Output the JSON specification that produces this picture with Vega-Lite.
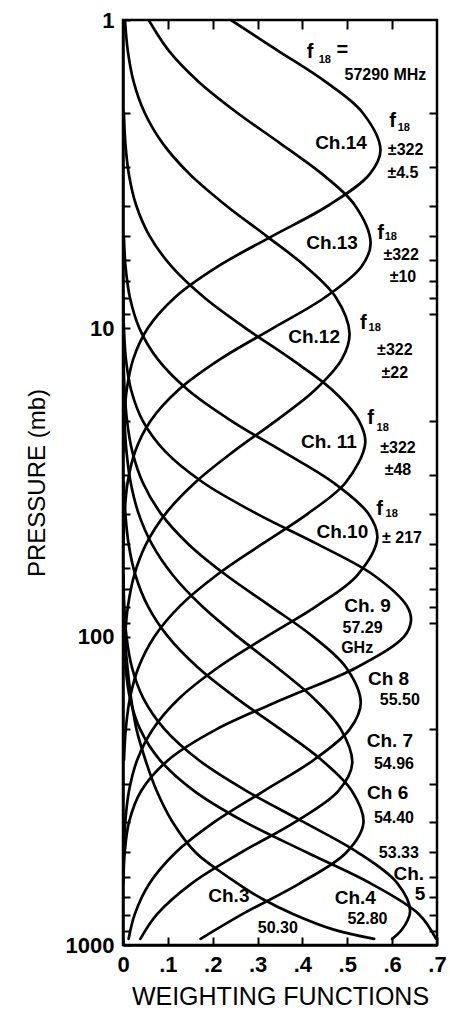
{
  "$schema": "https://vega.github.io/schema/vega-lite/v6.json",
  "width": 314,
  "height": 925,
  "autosize": "none",
  "padding": {"left": 123, "top": 20, "right": 13, "bottom": 74},
  "background": "white",
  "view": {"stroke": "black", "strokeWidth": 2.5},
  "config": {"font": "Liberation Sans"},
  "datasets": {
    "curves": [
      {"ch": "14", "p": 1, "w": 0.2406}, {"ch": "14", "p": 1.259, "w": 0.346}, {"ch": "14", "p": 1.585, "w": 0.4512}, {"ch": "14", "p": 1.995, "w": 0.5338}, {"ch": "14", "p": 2.642, "w": 0.574}, {"ch": "14", "p": 3.162, "w": 0.55}, {"ch": "14", "p": 3.981, "w": 0.4596}, {"ch": "14", "p": 5.012, "w": 0.3338}, {"ch": "14", "p": 6.31, "w": 0.2107}, {"ch": "14", "p": 7.943, "w": 0.1156}, {"ch": "14", "p": 10, "w": 0.0551}, {"ch": "14", "p": 12.59, "w": 0.0228}, {"ch": "14", "p": 15.85, "w": 0.0082}, {"ch": "14", "p": 19.95, "w": 0.0026}, {"ch": "14", "p": 25.12, "w": 0.0007},
      {"ch": "13", "p": 1, "w": 0.0572}, {"ch": "13", "p": 1.259, "w": 0.1024}, {"ch": "13", "p": 1.585, "w": 0.1684}, {"ch": "13", "p": 1.995, "w": 0.2537}, {"ch": "13", "p": 2.512, "w": 0.3506}, {"ch": "13", "p": 3.162, "w": 0.4443}, {"ch": "13", "p": 3.981, "w": 0.5165}, {"ch": "13", "p": 5.297, "w": 0.552}, {"ch": "13", "p": 6.31, "w": 0.5313}, {"ch": "13", "p": 7.943, "w": 0.4498}, {"ch": "13", "p": 10, "w": 0.3336}, {"ch": "13", "p": 12.59, "w": 0.2168}, {"ch": "13", "p": 15.85, "w": 0.1234}, {"ch": "13", "p": 19.95, "w": 0.0616}, {"ch": "13", "p": 25.12, "w": 0.0269}, {"ch": "13", "p": 31.62, "w": 0.0103}, {"ch": "13", "p": 39.81, "w": 0.0035}, {"ch": "13", "p": 50.12, "w": 0.001},
      {"ch": "12", "p": 1, "w": 0.0044}, {"ch": "12", "p": 1.259, "w": 0.0107}, {"ch": "12", "p": 1.585, "w": 0.0237}, {"ch": "12", "p": 1.995, "w": 0.048}, {"ch": "12", "p": 2.512, "w": 0.0885}, {"ch": "12", "p": 3.162, "w": 0.1487}, {"ch": "12", "p": 3.981, "w": 0.2282}, {"ch": "12", "p": 5.012, "w": 0.3193}, {"ch": "12", "p": 6.31, "w": 0.4076}, {"ch": "12", "p": 7.943, "w": 0.4747}, {"ch": "12", "p": 10.38, "w": 0.505}, {"ch": "12", "p": 12.59, "w": 0.4879}, {"ch": "12", "p": 15.85, "w": 0.428}, {"ch": "12", "p": 19.95, "w": 0.3406}, {"ch": "12", "p": 25.12, "w": 0.2458}, {"ch": "12", "p": 31.62, "w": 0.1609}, {"ch": "12", "p": 39.81, "w": 0.0955}, {"ch": "12", "p": 50.12, "w": 0.0514}, {"ch": "12", "p": 63.1, "w": 0.0251}, {"ch": "12", "p": 79.43, "w": 0.0111}, {"ch": "12", "p": 100, "w": 0.0045}, {"ch": "12", "p": 125.9, "w": 0.0016},
      {"ch": "11", "p": 1.995, "w": 0.002}, {"ch": "11", "p": 2.512, "w": 0.0053}, {"ch": "11", "p": 3.162, "w": 0.0131}, {"ch": "11", "p": 3.981, "w": 0.0292}, {"ch": "11", "p": 5.012, "w": 0.0591}, {"ch": "11", "p": 6.31, "w": 0.1087}, {"ch": "11", "p": 7.943, "w": 0.1811}, {"ch": "11", "p": 10, "w": 0.2737}, {"ch": "11", "p": 12.59, "w": 0.3752}, {"ch": "11", "p": 15.85, "w": 0.4666}, {"ch": "11", "p": 19.95, "w": 0.5261}, {"ch": "11", "p": 23.6, "w": 0.54}, {"ch": "11", "p": 31.62, "w": 0.4965}, {"ch": "11", "p": 39.81, "w": 0.413}, {"ch": "11", "p": 50.12, "w": 0.3096}, {"ch": "11", "p": 63.1, "w": 0.2091}, {"ch": "11", "p": 79.43, "w": 0.1273}, {"ch": "11", "p": 100, "w": 0.0698}, {"ch": "11", "p": 125.9, "w": 0.0345}, {"ch": "11", "p": 158.5, "w": 0.0154}, {"ch": "11", "p": 199.5, "w": 0.0062}, {"ch": "11", "p": 251.2, "w": 0.0022},
      {"ch": "10", "p": 5.012, "w": 0.0019}, {"ch": "10", "p": 6.31, "w": 0.0057}, {"ch": "10", "p": 7.943, "w": 0.0154}, {"ch": "10", "p": 10, "w": 0.0366}, {"ch": "10", "p": 12.59, "w": 0.0773}, {"ch": "10", "p": 15.85, "w": 0.1449}, {"ch": "10", "p": 19.95, "w": 0.2414}, {"ch": "10", "p": 25.12, "w": 0.3569}, {"ch": "10", "p": 31.62, "w": 0.4687}, {"ch": "10", "p": 39.81, "w": 0.5464}, {"ch": "10", "p": 47.75, "w": 0.567}, {"ch": "10", "p": 63.1, "w": 0.5227}, {"ch": "10", "p": 79.43, "w": 0.4322}, {"ch": "10", "p": 100, "w": 0.3198}, {"ch": "10", "p": 125.9, "w": 0.2118}, {"ch": "10", "p": 158.5, "w": 0.1255}, {"ch": "10", "p": 199.5, "w": 0.0666}, {"ch": "10", "p": 251.2, "w": 0.0316}, {"ch": "10", "p": 316.2, "w": 0.0134}, {"ch": "10", "p": 398.1, "w": 0.0051}, {"ch": "10", "p": 501.2, "w": 0.0017},
      {"ch": "9", "p": 7.943, "w": 0.0006}, {"ch": "9", "p": 10, "w": 0.0021}, {"ch": "9", "p": 12.59, "w": 0.0065}, {"ch": "9", "p": 15.85, "w": 0.0181}, {"ch": "9", "p": 19.95, "w": 0.0441}, {"ch": "9", "p": 25.12, "w": 0.0946}, {"ch": "9", "p": 31.62, "w": 0.1785}, {"ch": "9", "p": 39.81, "w": 0.2966}, {"ch": "9", "p": 50.12, "w": 0.4337}, {"ch": "9", "p": 63.1, "w": 0.5583}, {"ch": "9", "p": 79.43, "w": 0.6326}, {"ch": "9", "p": 88.72, "w": 0.642}, {"ch": "9", "p": 100, "w": 0.6265}, {"ch": "9", "p": 125.9, "w": 0.5208}, {"ch": "9", "p": 158.5, "w": 0.3613}, {"ch": "9", "p": 199.5, "w": 0.2091}, {"ch": "9", "p": 251.2, "w": 0.101}, {"ch": "9", "p": 316.2, "w": 0.0407}, {"ch": "9", "p": 398.1, "w": 0.0137}, {"ch": "9", "p": 501.2, "w": 0.0038}, {"ch": "9", "p": 631, "w": 0.0009},
      {"ch": "8", "p": 12.59, "w": 0.0012}, {"ch": "8", "p": 15.85, "w": 0.0035}, {"ch": "8", "p": 19.95, "w": 0.009}, {"ch": "8", "p": 25.12, "w": 0.0208}, {"ch": "8", "p": 31.62, "w": 0.044}, {"ch": "8", "p": 39.81, "w": 0.0841}, {"ch": "8", "p": 50.12, "w": 0.1459}, {"ch": "8", "p": 63.1, "w": 0.2295}, {"ch": "8", "p": 79.43, "w": 0.3275}, {"ch": "8", "p": 100, "w": 0.4238}, {"ch": "8", "p": 125.9, "w": 0.4974}, {"ch": "8", "p": 163.7, "w": 0.53}, {"ch": "8", "p": 199.5, "w": 0.5056}, {"ch": "8", "p": 251.2, "w": 0.4251}, {"ch": "8", "p": 316.2, "w": 0.3146}, {"ch": "8", "p": 398.1, "w": 0.2049}, {"ch": "8", "p": 501.2, "w": 0.1175}, {"ch": "8", "p": 631, "w": 0.0593}, {"ch": "8", "p": 794.3, "w": 0.0263}, {"ch": "8", "p": 955, "w": 0.0126},
      {"ch": "7", "p": 15.85, "w": 0.0013}, {"ch": "7", "p": 19.95, "w": 0.0033}, {"ch": "7", "p": 25.12, "w": 0.0078}, {"ch": "7", "p": 31.62, "w": 0.0171}, {"ch": "7", "p": 39.81, "w": 0.0346}, {"ch": "7", "p": 50.12, "w": 0.0645}, {"ch": "7", "p": 63.1, "w": 0.1108}, {"ch": "7", "p": 79.43, "w": 0.1753}, {"ch": "7", "p": 100, "w": 0.2556}, {"ch": "7", "p": 125.9, "w": 0.3434}, {"ch": "7", "p": 158.5, "w": 0.4253}, {"ch": "7", "p": 199.5, "w": 0.4855}, {"ch": "7", "p": 258.2, "w": 0.511}, {"ch": "7", "p": 316.2, "w": 0.4803}, {"ch": "7", "p": 398.1, "w": 0.3851}, {"ch": "7", "p": 501.2, "w": 0.2632}, {"ch": "7", "p": 631, "w": 0.1533}, {"ch": "7", "p": 794.3, "w": 0.076}, {"ch": "7", "p": 955, "w": 0.0387},
      {"ch": "6", "p": 31.62, "w": 0.002}, {"ch": "6", "p": 39.81, "w": 0.0052}, {"ch": "6", "p": 50.12, "w": 0.0126}, {"ch": "6", "p": 63.1, "w": 0.0276}, {"ch": "6", "p": 79.43, "w": 0.0551}, {"ch": "6", "p": 100, "w": 0.1004}, {"ch": "6", "p": 125.9, "w": 0.167}, {"ch": "6", "p": 158.5, "w": 0.2534}, {"ch": "6", "p": 199.5, "w": 0.3507}, {"ch": "6", "p": 251.2, "w": 0.4427}, {"ch": "6", "p": 316.2, "w": 0.51}, {"ch": "6", "p": 401.8, "w": 0.536}, {"ch": "6", "p": 501.2, "w": 0.4979}, {"ch": "6", "p": 631, "w": 0.3942}, {"ch": "6", "p": 794.3, "w": 0.266}, {"ch": "6", "p": 955, "w": 0.173},
      {"ch": "5", "p": 63.1, "w": 0.0009}, {"ch": "5", "p": 79.43, "w": 0.0028}, {"ch": "5", "p": 100, "w": 0.0078}, {"ch": "5", "p": 125.9, "w": 0.02}, {"ch": "5", "p": 158.5, "w": 0.0454}, {"ch": "5", "p": 199.5, "w": 0.0925}, {"ch": "5", "p": 251.2, "w": 0.1686}, {"ch": "5", "p": 316.2, "w": 0.2749}, {"ch": "5", "p": 398.1, "w": 0.4011}, {"ch": "5", "p": 501.2, "w": 0.5237}, {"ch": "5", "p": 631, "w": 0.6118}, {"ch": "5", "p": 776.2, "w": 0.64}, {"ch": "5", "p": 891.3, "w": 0.6218}, {"ch": "5", "p": 955, "w": 0.6},
      {"ch": "4", "p": 63.1, "w": 0.0001}, {"ch": "4", "p": 79.43, "w": 0.0005}, {"ch": "4", "p": 100, "w": 0.0018}, {"ch": "4", "p": 125.9, "w": 0.0057}, {"ch": "4", "p": 158.5, "w": 0.0156}, {"ch": "4", "p": 199.5, "w": 0.038}, {"ch": "4", "p": 251.2, "w": 0.0823}, {"ch": "4", "p": 316.2, "w": 0.1583}, {"ch": "4", "p": 398.1, "w": 0.2704}, {"ch": "4", "p": 501.2, "w": 0.41}, {"ch": "4", "p": 631, "w": 0.5519}, {"ch": "4", "p": 794.3, "w": 0.6596}, {"ch": "4", "p": 955, "w": 0.698},
      {"ch": "3", "p": 79.43, "w": 0.001}, {"ch": "3", "p": 100, "w": 0.004}, {"ch": "3", "p": 125.9, "w": 0.01}, {"ch": "3", "p": 158.5, "w": 0.018}, {"ch": "3", "p": 199.5, "w": 0.03}, {"ch": "3", "p": 251.2, "w": 0.05}, {"ch": "3", "p": 316.2, "w": 0.075}, {"ch": "3", "p": 398.1, "w": 0.11}, {"ch": "3", "p": 501.2, "w": 0.162}, {"ch": "3", "p": 575.4, "w": 0.215}, {"ch": "3", "p": 631, "w": 0.255}, {"ch": "3", "p": 707.9, "w": 0.31}, {"ch": "3", "p": 794.3, "w": 0.38}, {"ch": "3", "p": 891.3, "w": 0.47}, {"ch": "3", "p": 955, "w": 0.56}
    ],
    "notes": [
      {"role": "ch", "t": "Ch.14", "w": 0.486, "p": 2.5},
      {"role": "ch", "t": "Ch.13", "w": 0.466, "p": 5.3},
      {"role": "ch", "t": "Ch.12", "w": 0.426, "p": 10.7},
      {"role": "ch", "t": "Ch. 11", "w": 0.459, "p": 23.4},
      {"role": "ch", "t": "Ch.10", "w": 0.489, "p": 45.9},
      {"role": "ch", "t": "Ch. 9", "w": 0.545, "p": 79.3},
      {"role": "ch", "t": "Ch 8", "w": 0.592, "p": 137},
      {"role": "ch", "t": "Ch. 7", "w": 0.595, "p": 218},
      {"role": "ch", "t": "Ch 6", "w": 0.59, "p": 321},
      {"role": "ch", "t": "Ch.", "w": 0.637, "p": 588},
      {"role": "ch", "t": "5", "w": 0.662, "p": 683},
      {"role": "ch", "t": "Ch.4", "w": 0.518, "p": 704},
      {"role": "ch", "t": "Ch.3", "w": 0.236, "p": 693},
      {"role": "f", "t": "f", "w": 0.417, "p": 1.27},
      {"role": "f", "t": "=", "w": 0.489, "p": 1.25},
      {"role": "f", "t": "f", "w": 0.601, "p": 2.13},
      {"role": "f", "t": "f", "w": 0.574, "p": 4.92},
      {"role": "f", "t": "f", "w": 0.536, "p": 9.64},
      {"role": "f", "t": "f", "w": 0.552, "p": 19.5},
      {"role": "f", "t": "f", "w": 0.572, "p": 38.4},
      {"role": "sub", "t": "18", "w": 0.45, "p": 1.35},
      {"role": "sub", "t": "18", "w": 0.626, "p": 2.24},
      {"role": "sub", "t": "18", "w": 0.597, "p": 5.07},
      {"role": "sub", "t": "18", "w": 0.561, "p": 10.0},
      {"role": "sub", "t": "18", "w": 0.579, "p": 21.0},
      {"role": "sub", "t": "18", "w": 0.599, "p": 39.9},
      {"role": "freq", "t": "57290 MHz", "w": 0.585, "p": 1.51},
      {"role": "freq", "t": "±322", "w": 0.63, "p": 2.64},
      {"role": "freq", "t": "±4.5", "w": 0.624, "p": 3.14},
      {"role": "freq", "t": "±322", "w": 0.62, "p": 5.8},
      {"role": "freq", "t": "±10", "w": 0.624, "p": 6.83},
      {"role": "freq", "t": "±322", "w": 0.606, "p": 11.8},
      {"role": "freq", "t": "±22", "w": 0.606, "p": 14.0},
      {"role": "freq", "t": "±322", "w": 0.613, "p": 24.5},
      {"role": "freq", "t": "±48", "w": 0.613, "p": 28.9},
      {"role": "freq", "t": "± 217", "w": 0.622, "p": 47.7},
      {"role": "freq", "t": "57.29", "w": 0.534, "p": 93.5},
      {"role": "freq", "t": "GHz", "w": 0.522, "p": 109},
      {"role": "freq", "t": "55.50", "w": 0.617, "p": 161},
      {"role": "freq", "t": "54.96", "w": 0.604, "p": 258},
      {"role": "freq", "t": "54.40", "w": 0.604, "p": 387},
      {"role": "freq", "t": "53.33", "w": 0.615, "p": 503},
      {"role": "freq", "t": "52.80", "w": 0.545, "p": 823},
      {"role": "freq", "t": "50.30", "w": 0.345, "p": 881}
    ]
  },
  "layer": [
    {
      "data": {"name": "curves"},
      "mark": {"type": "line", "interpolate": "catmull-rom", "color": "black", "strokeWidth": 2.7, "strokeCap": "round", "strokeJoin": "round", "clip": true},
      "encoding": {
        "x": {
          "field": "w", "type": "quantitative",
          "scale": {"domain": [0, 0.7], "nice": false, "zero": false},
          "axis": {
            "orient": "bottom", "values": [0, 0.1, 0.2, 0.3, 0.4, 0.5, 0.6, 0.7],
            "labelExpr": "datum.value == 0 ? '0' : '.' + round(datum.value * 10)",
            "title": "WEIGHTING FUNCTIONS", "grid": false,
            "tickSize": -8, "tickWidth": 2, "tickColor": "black",
            "domain": true, "domainWidth": 2.5, "domainColor": "black",
            "labelFont": "Liberation Sans", "labelFontSize": 22, "labelFontWeight": "bold", "labelColor": "black",
            "labelPadding": 17, "labelFlush": false, "labelOverlap": false, "labelBound": false,
            "titleFont": "Liberation Sans", "titleFontSize": 25, "titleFontWeight": "normal", "titleColor": "black", "titlePadding": 9
          }
        },
        "y": {
          "field": "p", "type": "quantitative",
          "scale": {"type": "log", "domain": [1, 1000], "reverse": true, "nice": false},
          "axis": {
            "orient": "left",
            "values": [1, 2, 3, 4, 5, 6, 7, 8, 9, 10, 20, 30, 40, 50, 60, 70, 80, 90, 100, 200, 300, 400, 500, 600, 700, 800, 900, 1000],
            "labelExpr": "datum.value == 1 ? '1' : datum.value == 10 ? '10' : datum.value == 100 ? '100' : datum.value == 1000 ? '1000' : ''",
            "title": "PRESSURE (mb)", "grid": false,
            "tickSize": -7, "tickWidth": 2, "tickColor": "black",
            "domain": true, "domainWidth": 2.5, "domainColor": "black",
            "labelFont": "Liberation Sans", "labelFontSize": 22, "labelFontWeight": "bold", "labelColor": "black",
            "labelPadding": 16, "labelFlush": false, "labelOverlap": false, "labelBound": false,
            "titleFont": "Liberation Sans", "titleFontSize": 24, "titleFontWeight": "normal", "titleColor": "black", "titlePadding": 16
          }
        },
        "detail": {"field": "ch"},
        "order": {"field": "p", "type": "quantitative"}
      }
    },
    {
      "data": {"name": "notes"},
      "transform": [{"filter": "datum.role == 'ch'"}],
      "mark": {"type": "text", "font": "Liberation Sans", "fontSize": 19, "fontWeight": "bold", "color": "black", "align": "center", "baseline": "middle"},
      "encoding": {
        "x": {"field": "w", "type": "quantitative", "axis": {"orient": "top", "values": [0.1, 0.2, 0.3, 0.4, 0.5, 0.6], "labels": false, "title": null, "grid": false, "domain": false, "tickSize": -9, "tickWidth": 2, "tickColor": "black"}},
        "y": {"field": "p", "type": "quantitative", "axis": {"orient": "right", "values": [2, 3, 4, 5, 6, 7, 8, 9, 20, 30, 40, 50, 60, 70, 80, 90, 200, 300, 400, 500, 600, 700, 800, 900], "labels": false, "title": null, "grid": false, "domain": false, "tickSize": -8, "tickWidth": 2, "tickColor": "black"}},
        "text": {"field": "t"}
      }
    },
    {
      "data": {"name": "notes"},
      "transform": [{"filter": "datum.role == 'f'"}],
      "mark": {"type": "text", "font": "Liberation Sans", "fontSize": 20, "fontWeight": "bold", "color": "black", "align": "center", "baseline": "middle"},
      "encoding": {
        "x": {"field": "w", "type": "quantitative", "axis": null},
        "y": {"field": "p", "type": "quantitative", "axis": null},
        "text": {"field": "t"}
      }
    },
    {
      "data": {"name": "notes"},
      "transform": [{"filter": "datum.role == 'sub'"}],
      "mark": {"type": "text", "font": "Liberation Sans", "fontSize": 11, "fontWeight": "bold", "color": "black", "align": "center", "baseline": "middle"},
      "encoding": {
        "x": {"field": "w", "type": "quantitative", "axis": null},
        "y": {"field": "p", "type": "quantitative", "axis": null},
        "text": {"field": "t"}
      }
    },
    {
      "data": {"name": "notes"},
      "transform": [{"filter": "datum.role == 'freq'"}],
      "mark": {"type": "text", "font": "Liberation Sans", "fontSize": 16, "fontWeight": "bold", "color": "black", "align": "center", "baseline": "middle"},
      "encoding": {
        "x": {"field": "w", "type": "quantitative", "axis": null},
        "y": {"field": "p", "type": "quantitative", "axis": null},
        "text": {"field": "t"}
      }
    }
  ],
  "resolve": {"axis": {"x": "independent", "y": "independent"}}
}
